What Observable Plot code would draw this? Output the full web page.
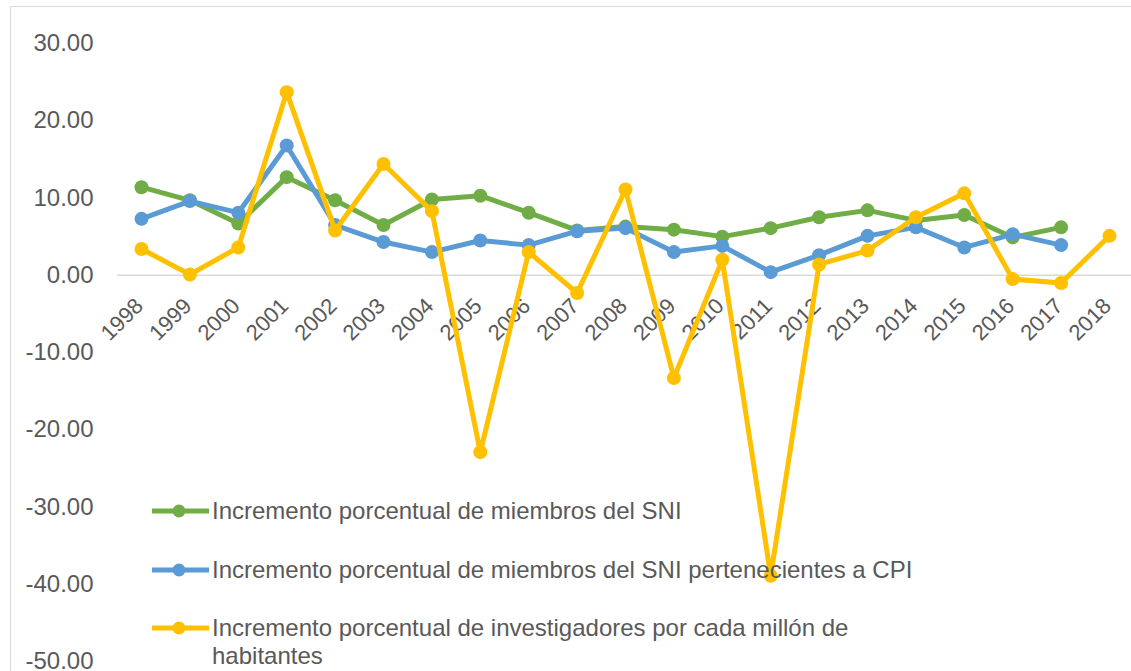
<!DOCTYPE html>
<html>
<head>
<meta charset="utf-8">
<script src="https://cdn.jsdelivr.net/npm/d3@7"></script>
<script src="https://cdn.jsdelivr.net/npm/@observablehq/plot@0.6"></script>
<style>
  html, body { margin: 0; padding: 0; background: #fff; overflow: hidden; }
  #wrap { position: relative; width: 1131px; height: 671px; overflow: hidden; font-family: "Liberation Sans", Arial, sans-serif; }
  #frame { position: absolute; left: 10px; top: 6px; width: 1200px; height: 800px; border: 1.5px solid #d9d9d9; box-sizing: border-box; }
  #chart { position: absolute; left: 0; top: 0; }
  .leg { position: absolute; left: 152px; display: flex; align-items: flex-start; color: #595959; font-size: 24px; line-height: 28px; }
  .leg svg { flex: none; margin-right: 3px; }
</style>
</head>
<body>
<div id="wrap">
  <div id="frame"></div>
  <div id="chart"></div>
  <div id="legend"></div>
</div>
<script>
const years = [1998,1999,2000,2001,2002,2003,2004,2005,2006,2007,2008,2009,2010,2011,2012,2013,2014,2015,2016,2017,2018];
const sni = [11.4,9.7,6.7,12.7,9.7,6.5,9.8,10.3,8.1,5.8,6.3,5.9,5.0,6.1,7.5,8.4,7.1,7.8,4.9,6.2,null];
const cpi = [7.3,9.6,8.1,16.8,6.5,4.3,3.0,4.5,3.9,5.7,6.1,3.0,3.8,0.4,2.6,5.1,6.2,3.6,5.3,3.9,null];
const inv = [3.4,0.1,3.6,23.7,5.8,14.4,8.3,-22.9,3.0,-2.3,11.1,-13.3,2.0,-38.9,1.4,3.2,7.5,10.6,-0.5,-1.0,5.1];
const seriesNames = [
  "Incremento porcentual de miembros del SNI",
  "Incremento porcentual de miembros del SNI pertenecientes a CPI",
  "Incremento porcentual de investigadores por cada millón de habitantes"
];
const seriesColors = ["#70AD47", "#5B9BD5", "#FFC000"];
const yTicks = [30,20,10,0,-10,-20,-30,-40,-50];

const seriesValues = [sni, cpi, inv];
const tables = seriesValues.map((vals, i) =>
  years.map((yr, j) => ({year: yr, value: vals[j], series: seriesNames[i]})).filter(d => d.value != null)
);

const marks = [
  Plot.ruleY([0], {x1: 1997.5, x2: 2018.5, stroke: "#d9d9d9", strokeWidth: 1.5}),
  Plot.text(years, {x: d => d, y: () => 0, text: d => String(d), rotate: -45, textAnchor: "end", dx: -2, dy: 27, fill: "#595959", fontSize: 22})
];
tables.forEach((t, i) => {
  marks.push(Plot.line(t, {x: "year", y: "value", stroke: seriesColors[i], strokeWidth: 5, strokeLinejoin: "round"}));
  marks.push(Plot.dot(t, {x: "year", y: "value", fill: seriesColors[i], r: 7}));
});

const chart = Plot.plot({
  width: 1131,
  height: 671,
  marginLeft: 141,
  marginRight: 22,
  marginTop: 43,
  marginBottom: 10,
  style: {fontFamily: "'Liberation Sans', Arial, sans-serif", fontSize: "24px", color: "#595959", background: "transparent", overflow: "visible"},
  x: {type: "linear", domain: [1998, 2018], axis: null},
  y: {domain: [-50, 30], ticks: yTicks, tickFormat: d => d.toFixed(2), tickSize: 0, tickPadding: 48, label: null},
  marks
});
document.getElementById("chart").appendChild(chart);

// Legend overlay
const legendTops = [511, 570, 628];
const legend = document.getElementById("legend");
seriesNames.forEach((name, i) => {
  const item = document.createElement("div");
  item.className = "leg";
  item.style.top = (legendTops[i] - 14) + "px";
  const svgNS = "http://www.w3.org/2000/svg";
  const s = document.createElementNS(svgNS, "svg");
  s.setAttribute("width", 57); s.setAttribute("height", 28);
  const ln = document.createElementNS(svgNS, "line");
  ln.setAttribute("x1", 0); ln.setAttribute("x2", 57); ln.setAttribute("y1", 14); ln.setAttribute("y2", 14);
  ln.setAttribute("stroke", seriesColors[i]); ln.setAttribute("stroke-width", 5); ln.setAttribute("stroke-linecap", "round");
  const c = document.createElementNS(svgNS, "circle");
  c.setAttribute("cx", 27); c.setAttribute("cy", 14); c.setAttribute("r", 6.5); c.setAttribute("fill", seriesColors[i]);
  s.appendChild(ln); s.appendChild(c);
  const txt = document.createElement("div");
  txt.style.width = "720px";
  txt.textContent = name;
  item.appendChild(s); item.appendChild(txt);
  legend.appendChild(item);
});
</script>
</body>
</html>
